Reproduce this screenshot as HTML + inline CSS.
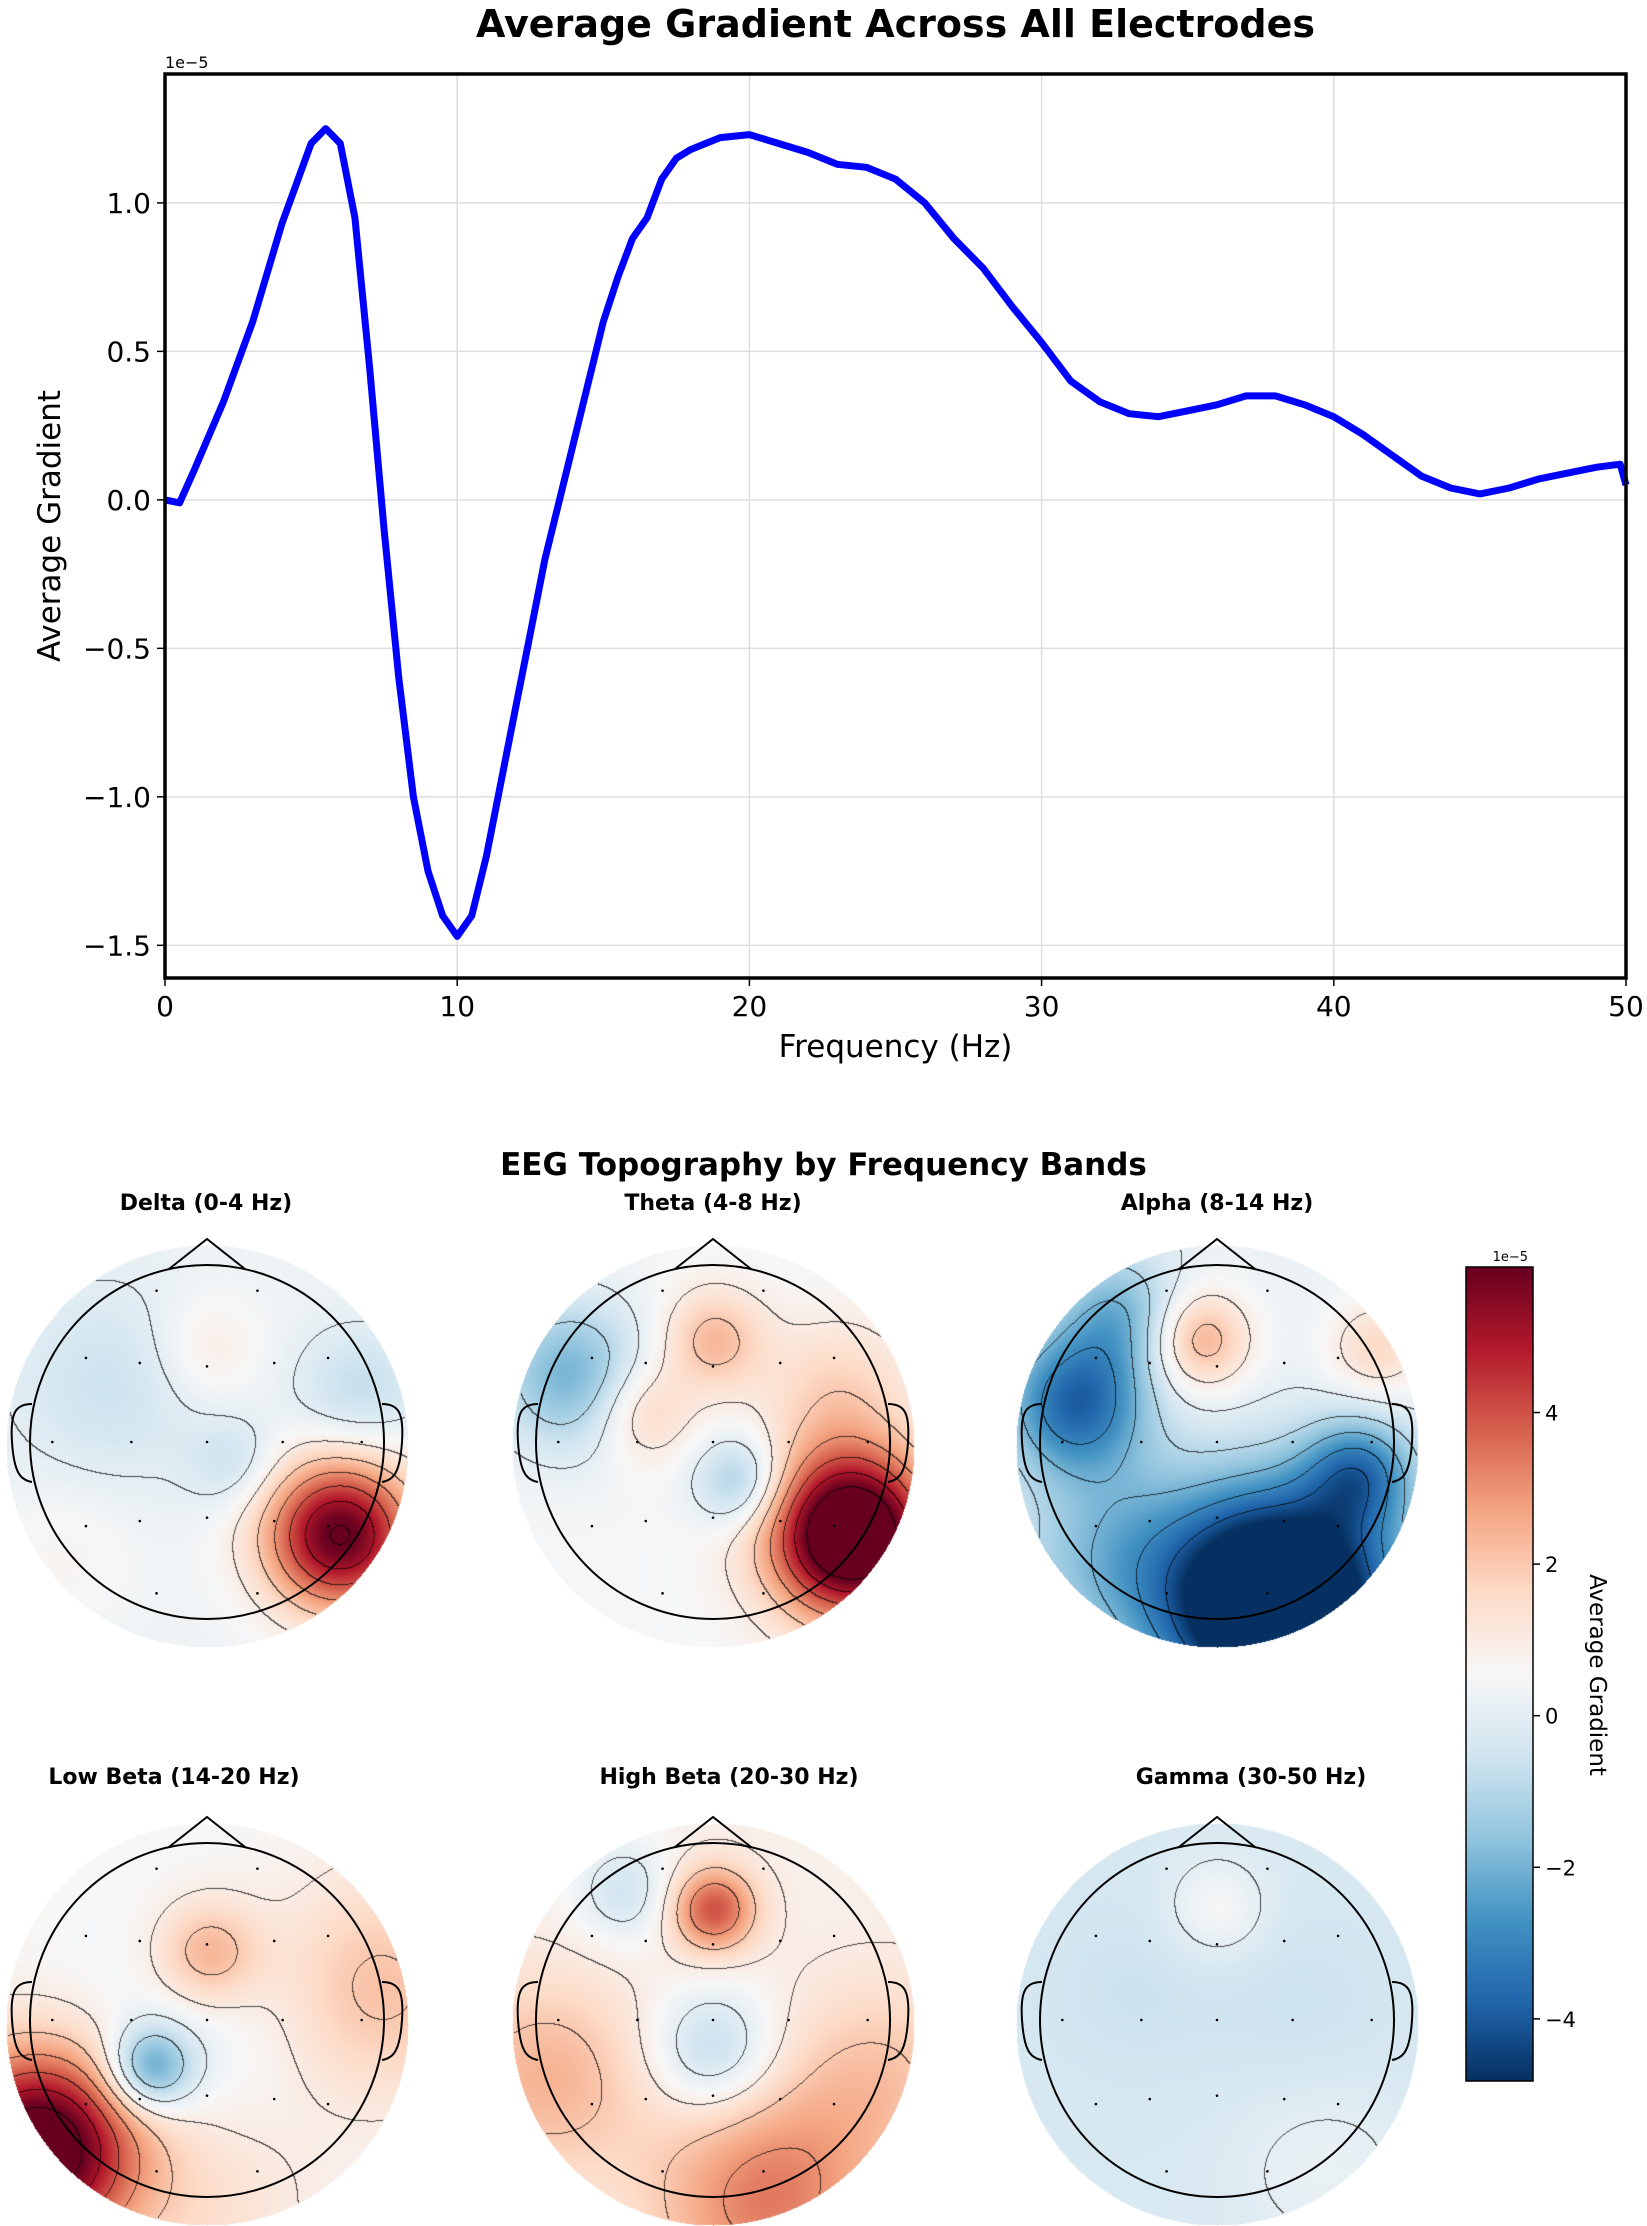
<!DOCTYPE html>
<html><head><meta charset="utf-8"><style>
body{margin:0;background:#fff;}
#root{position:relative;width:1647px;height:2226px;overflow:hidden;font-family:"DejaVu Sans","Liberation Sans",sans-serif;}
.t{position:absolute;white-space:nowrap;color:#000;}
canvas{position:absolute;}
</style></head><body>
<div id="root">
<svg id="line" width="1647" height="1100" style="position:absolute;left:0;top:0"></svg>
<div class="t" style="left:0;width:1647px;text-align:center;top:1147px;font-size:31px;font-weight:bold;font-family:'DejaVu Sans',sans-serif;">EEG Topography by Frequency Bands</div>
<svg id="cb" width="1647" height="2226" style="position:absolute;left:0;top:0;pointer-events:none"></svg>
</div>
<script>
// ---- line chart data ----
const freqs = [0,0.5,1,2,3,4,5,5.5,6,6.5,7,7.5,8,8.5,9,9.5,10,10.5,11,11.5,12,12.5,13,13.5,14,14.5,15,15.5,16,16.5,17,17.5,18,19,20,21,22,23,24,25,26,27,28,29,30,31,32,33,34,35,36,37,38,39,40,41,42,43,44,45,46,47,48,49,49.8,50];
const gradVals = [0,-0.01,0.1,0.33,0.6,0.93,1.2,1.25,1.2,0.95,0.45,-0.1,-0.6,-1.0,-1.25,-1.4,-1.47,-1.4,-1.2,-0.95,-0.7,-0.45,-0.2,0.0,0.2,0.4,0.6,0.75,0.88,0.95,1.08,1.15,1.18,1.22,1.23,1.2,1.17,1.13,1.12,1.08,1.0,0.88,0.78,0.65,0.53,0.4,0.33,0.29,0.28,0.3,0.32,0.35,0.35,0.32,0.28,0.22,0.15,0.08,0.04,0.02,0.04,0.07,0.09,0.11,0.12,0.05];
const xTicks = [0,10,20,30,40,50];
const yTicks = [-1.5,-1.0,-0.5,0.0,0.5,1.0];
const yTickLabels = ["\u22121.5","\u22121.0","\u22120.5","0.0","0.5","1.0"];

const NS='http://www.w3.org/2000/svg';
function mk(parent,tag,attrs,text){const e=document.createElementNS(NS,tag);for(const k in attrs)e.setAttribute(k,attrs[k]);if(text!==undefined)e.textContent=text;parent.appendChild(e);return e;}
const L=165,R=1626,T=74,B=978,ymin=-1.61,ymax=1.434;
const sx=v=>L+(v-0)/(50-0)*(R-L);
const sy=v=>T+(ymax-v)/(ymax-ymin)*(B-T);
const svg=document.getElementById('line');
let e;
e=mk(svg,'text',{x:(L+R)/2,y:37,'text-anchor':'middle','font-size':38,'font-weight':'bold','font-family':'DejaVu Sans, sans-serif'},'Average Gradient Across All Electrodes');


xTicks.forEach(v=>{
  if(v>0&&v<50){e=mk(svg,'line',{x1:sx(v),x2:sx(v),y1:T,y2:B,stroke:'#ddd','stroke-width':1.5});
  
  }
  e=mk(svg,'line',{x1:sx(v),x2:sx(v),y1:B,y2:B+8,stroke:'#000','stroke-width':1.5});
  
  
  e=mk(svg,'text',{x:sx(v),y:B+38,'text-anchor':'middle','font-size':28,'font-family':'DejaVu Sans, sans-serif'},String(v));
  
  
});
yTicks.forEach((v,i)=>{
  e=mk(svg,'line',{x1:L,x2:R,y1:sy(v),y2:sy(v),stroke:'#ddd','stroke-width':1.5});
  
  
  e=mk(svg,'line',{x1:L-8,x2:L,y1:sy(v),y2:sy(v),stroke:'#000','stroke-width':1.5});
  
  
  e=mk(svg,'text',{x:L-14,y:sy(v)+10,'text-anchor':'end','font-size':28,'font-family':'DejaVu Sans, sans-serif'},yTickLabels[i]);
  
  
});
let d='';freqs.forEach((f,i)=>{d+=(i?'L':'M')+sx(f).toFixed(1)+','+sy(gradVals[i]).toFixed(1);});
e=mk(svg,'path',{d:d,fill:'none',stroke:'#0000ff','stroke-width':7,'stroke-linejoin':'round'});


e=mk(svg,'rect',{x:L,y:T,width:R-L,height:B-T,fill:'none',stroke:'#000','stroke-width':3.5});


e=mk(svg,'text',{x:L,y:68,'font-size':16,'font-family':'DejaVu Sans, sans-serif'},'1e\u22125');


e=mk(svg,'text',{x:(L+R)/2,y:1057,'text-anchor':'middle','font-size':31,'font-family':'DejaVu Sans, sans-serif'},'Frequency (Hz)');


e=mk(svg,'text',{x:0,y:0,'text-anchor':'middle','font-size':31,'font-family':'DejaVu Sans, sans-serif',transform:'translate(60,526) rotate(-90)'},'Average Gradient');



// ---- topomap data (gaussian blob sources, amplitudes in 1e-5) ----
const bandNames = ["Delta (0-4 Hz)","Theta (4-8 Hz)","Alpha (8-14 Hz)","Low Beta (14-20 Hz)","High Beta (20-30 Hz)","Gamma (30-50 Hz)"];
const bandBase = [0.3,0.5,0.2,0.6,0.8,-0.3];
const blobX = [[0.75,0,-0.55,0.15,0.85,-0.8],[0.78,0,-0.4,-0.8,0.15,0.7],[-0.1,-0.8,0.35,0.8,-0.6,0.9,-0.55],[-0.95,0,-0.32,0.95,0,0],[0,0,0.3,-0.95,0.95,-0.5],[0,0.6,-0.5,0.5]];
const blobY = [[-0.5,0.55,0.35,-0.1,0.3,-0.6],[-0.5,0.6,0.2,0.4,-0.2,0.3],[0.6,0.25,-0.9,-0.15,-0.6,0.55,0.75],[-0.7,0.4,-0.25,0.2,-1.0,0.0],[0.65,-0.15,-1.0,-0.3,-0.3,0.75],[0.65,-0.8,0.2,0.1]];
const blobAmp = [[5.8,0.8,-0.9,-0.9,-1.1,0.4],[7.5,1.8,1.5,-2.5,-2.0,1.2],[2.4,-3.8,-8.5,-3.0,-1.8,1.4,-2.0],[6.5,2.0,-3.0,1.6,0.8,-0.6],[3.2,-1.8,2.5,1.6,1.2,-1.3],[0.9,0.5,-0.3,-0.3]];
const blobSig = [[0.3,0.22,0.4,0.18,0.25,0.3],[0.32,0.2,0.2,0.3,0.18,0.3],[0.2,0.28,0.45,0.22,0.4,0.2,0.25],[0.38,0.22,0.17,0.45,0.45,0.5],[0.17,0.25,0.45,0.4,0.4,0.2],[0.2,0.35,0.4,0.4]];
const cbTicks = [-4,-2,0,2,4];
const cbTickLabels = ["\u22124","\u22122","0","2","4"];
const vmin=-4.82,vmax=5.92;

const cmapStops=['#053061','#2166ac','#4393c3','#92c5de','#d1e5f0','#f7f7f7','#fddbc7','#f4a582','#d6604d','#b2182b','#67001f'].map(h=>[parseInt(h.slice(1,3),16),parseInt(h.slice(3,5),16),parseInt(h.slice(5,7),16)]);
function cmap(t){t=Math.max(0,Math.min(1,t))*10;const i=Math.min(9,Math.floor(t)),f=t-i;const a=cmapStops[i],b=cmapStops[i+1];return [a[0]+(b[0]-a[0])*f,a[1]+(b[1]-a[1])*f,a[2]+(b[2]-a[2])*f];}

const centersX=[207,713,1217,207,713,1217];
const centersY=[1446,1446,1446,2024,2024,2024];
const titleX=[206,713,1217,174,729,1251];
const titleY=[1186,1186,1186,1760,1760,1760];
const DR=201,HR=177;
const sensX=[-0.3,0.3,-0.72,-0.4,0,0.4,0.72,-0.92,-0.45,0,0.45,0.92,-0.72,-0.4,0,0.4,0.72,-0.3,0.3];
const sensY=[0.9,0.9,0.5,0.47,0.45,0.47,0.5,0,0,0,0,0,-0.5,-0.47,-0.45,-0.47,-0.5,-0.9,-0.9];
const root=document.getElementById('root');
function field(b,x,y){let v=bandBase[b];for(let k=0;k<blobX[b].length;k++){const dx=x-blobX[b][k],dy=y-blobY[b][k];v+=blobAmp[b][k]*Math.exp(-(dx*dx+dy*dy)/(2*blobSig[b][k]*blobSig[b][k]));}return v;}
for(let b=0;b<6;b++){
  const c=document.createElement('canvas');const S=2*DR+2;c.width=S;c.height=S;
  c.style.left=(centersX[b]-DR-1)+'px';c.style.top=(centersY[b]-DR-1)+'px';
  
  
  root.insertBefore(c,document.getElementById('cb'));
  const ctx=c.getContext('2d');const img=ctx.createImageData(S,S);
  const G=[];
  for(let j=0;j<S;j++)for(let i=0;i<S;i++){
    const px=(i-DR-1)/HR,py=-(j-DR-1)/HR;const rr=Math.hypot(i-DR-1,j-DR-1);
    const v=field(b,px,py);G.push(v);
    const p=(j*S+i)*4;if(rr>DR)continue;
    const col=cmap((v-vmin)/(vmax-vmin));img.data[p]=col[0];img.data[p+1]=col[1];img.data[p+2]=col[2];img.data[p+3]=255;
  }
  const lv=[-4,-3,-2,-1,0,1,2,3,4,5,6];
  for(let j=1;j<S-1;j++)for(let i=1;i<S-1;i++){
    if(Math.hypot(i-DR-1,j-DR-1)>DR-1)continue;
    const v=G[j*S+i],vr=G[j*S+i+1],vd=G[(j+1)*S+i];
    for(const l of lv){if((v-l)*(vr-l)<0||(v-l)*(vd-l)<0){const p=(j*S+i)*4;img.data[p]*=0.3;img.data[p+1]*=0.3;img.data[p+2]*=0.3;break;}}
  }
  ctx.putImageData(img,0,0);
}
const cb=document.getElementById('cb');
for(let b=0;b<6;b++){
  const cx=centersX[b],cy=centersY[b]-4;
  const g=mk(cb,'g',{fill:'none',stroke:'#000','stroke-width':2});
  
  
  mk(g,'circle',{cx:cx,cy:cy,r:HR});
  mk(g,'path',{d:`M${cx-38},${cy-HR+4} L${cx},${cy-HR-26} L${cx+38},${cy-HR+4}`});
  mk(g,'path',{d:`M${cx-HR+2},${cy-38} C${cx-HR-14},${cy-38} ${cx-HR-20},${cy-30} ${cx-HR-18},${cy} C${cx-HR-16},${cy+30} ${cx-HR-10},${cy+38} ${cx-HR+2},${cy+40}`});
  mk(g,'path',{d:`M${cx+HR-2},${cy-38} C${cx+HR+14},${cy-38} ${cx+HR+20},${cy-30} ${cx+HR+18},${cy} C${cx+HR+16},${cy+30} ${cx+HR+10},${cy+38} ${cx+HR-2},${cy+40}`});
  sensX.forEach((sxv,k)=>{e=mk(cb,'circle',{cx:cx+sxv*HR*0.95,cy:cy-sensY[k]*HR*0.95,r:1.3,fill:'#000'});
    
    });
  e=mk(cb,'text',{x:titleX[b],y:titleY[b]+24,'text-anchor':'middle','font-size':22,'font-weight':'bold','font-family':'DejaVu Sans, sans-serif'},bandNames[b]);
  
  
}
// colorbar
const CL=1466,CR=1533,CT=1267,CBt=2081;
const cy2=v=>CT+(vmax-v)/(vmax-vmin)*(CBt-CT);
const defs=mk(cb,'defs',{});const lg=mk(defs,'linearGradient',{id:'cbg',x1:0,y1:1,x2:0,y2:0});
for(let k=0;k<=20;k++){const col=cmap(k/20);mk(lg,'stop',{offset:(k/20),'stop-color':`rgb(${col.map(Math.round).join(',')})`});}
e=mk(cb,'rect',{x:CL,y:CT,width:CR-CL,height:CBt-CT,fill:'url(#cbg)',stroke:'#000','stroke-width':1.5});


cbTicks.forEach((v,i)=>{
  e=mk(cb,'line',{x1:CR,x2:CR+7,y1:cy2(v),y2:cy2(v),stroke:'#000','stroke-width':1.5});
  
  
  e=mk(cb,'text',{x:CR+12,y:cy2(v)+8,'font-size':21,'font-family':'DejaVu Sans, sans-serif'},cbTickLabels[i]);
  
  
});
e=mk(cb,'text',{x:CR-5,y:CT-6,'text-anchor':'end','font-size':13,'font-family':'DejaVu Sans, sans-serif'},'1e\u22125');


e=mk(cb,'text',{x:0,y:0,'text-anchor':'middle','font-size':23,'font-family':'DejaVu Sans, sans-serif',transform:'translate(1590,1675) rotate(90)'},'Average Gradient');


</script>
</body></html>
